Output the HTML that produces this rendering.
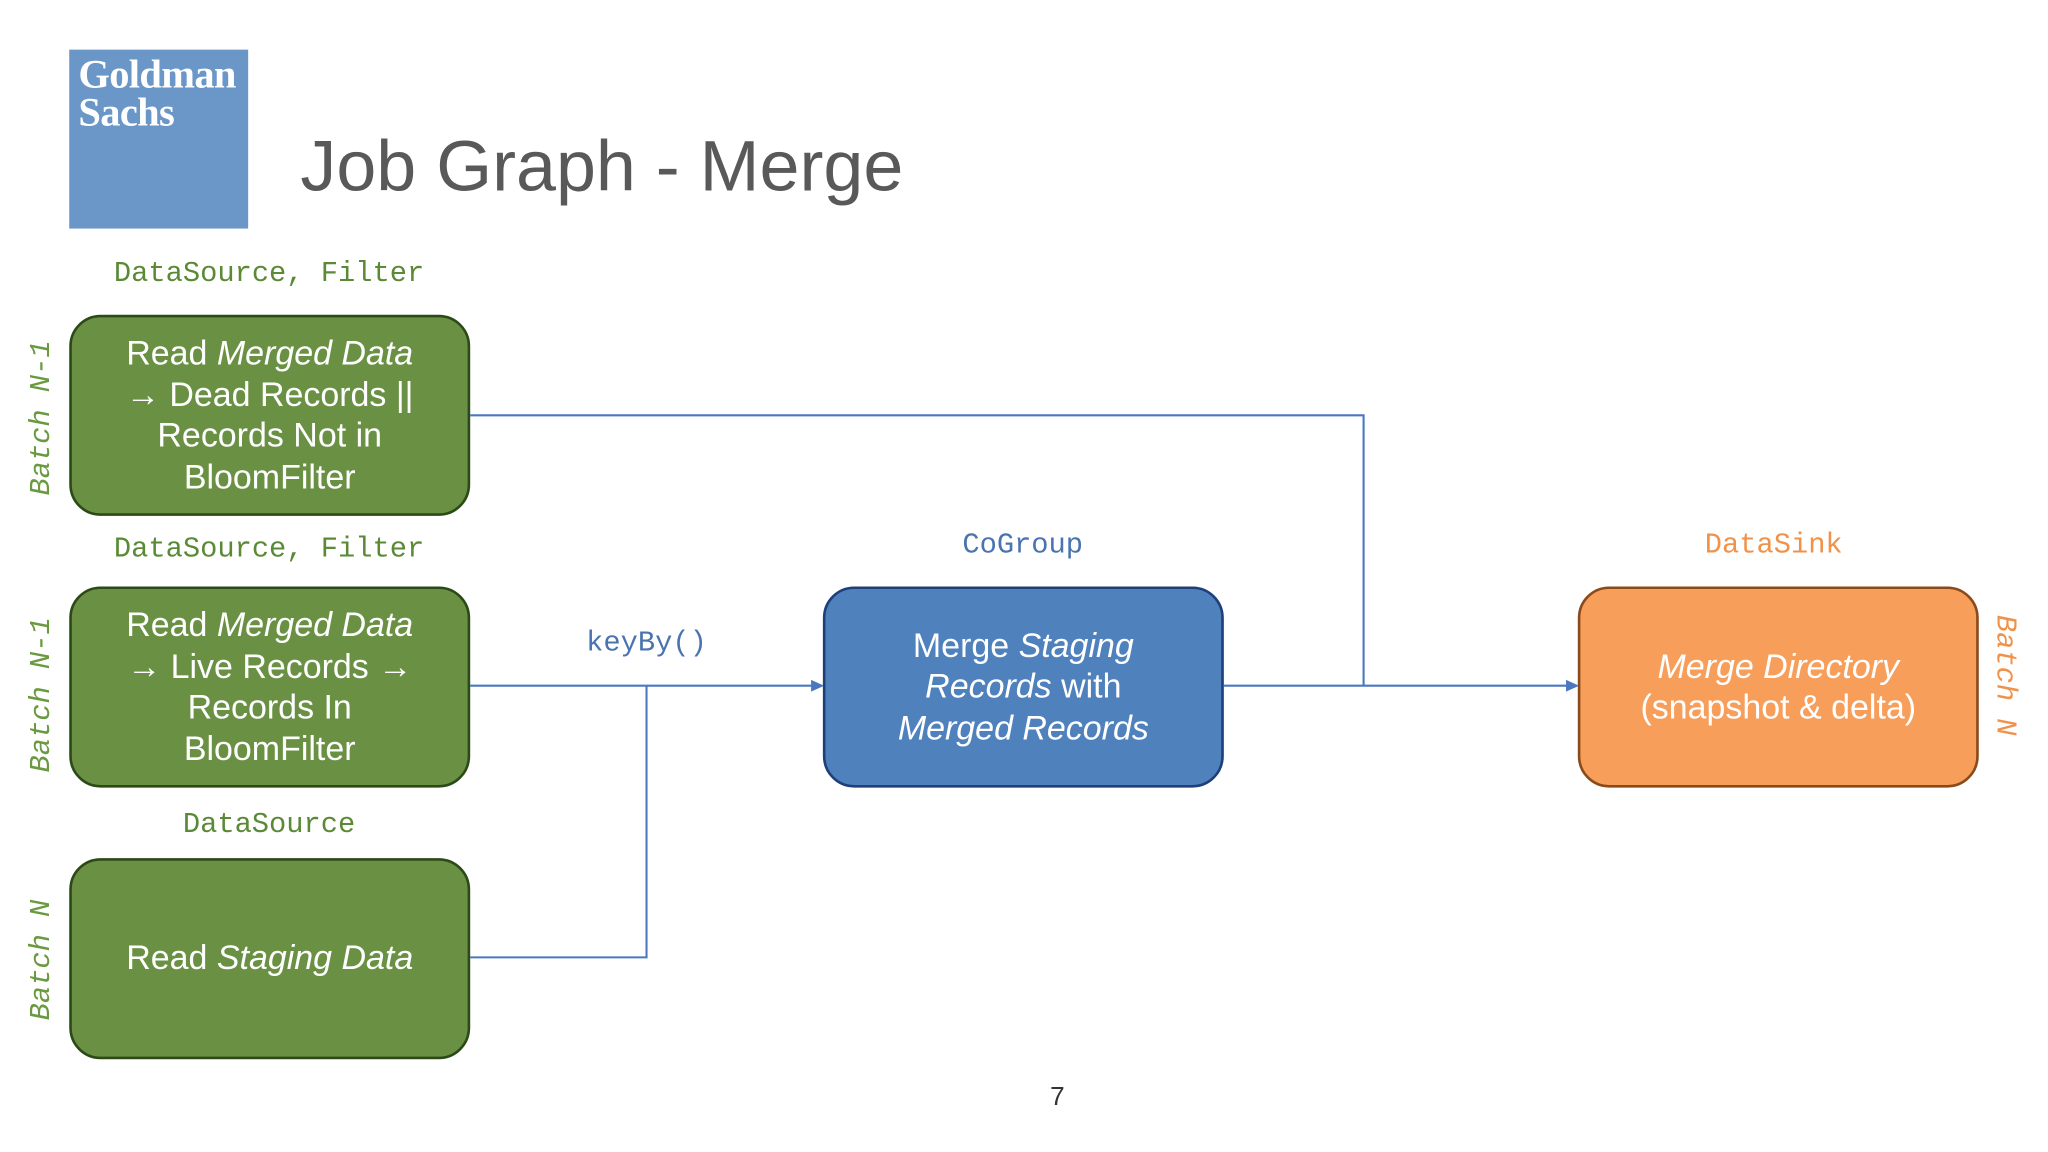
<!DOCTYPE html>
<html><head><meta charset="utf-8"><style>
html,body{margin:0;padding:0;background:#fff;}
body{width:2048px;height:1152px;overflow:hidden;}
#s{position:absolute;left:0;top:0;width:1568px;height:882px;transform:scale(1.30612);transform-origin:0 0;font-family:"Liberation Sans",sans-serif;}
.box{position:absolute;width:307px;height:154px;border-radius:24px;border:2px solid;display:flex;align-items:center;justify-content:center;text-align:center;color:#fff;font-size:26px;line-height:31.5px;box-sizing:border-box;}
.g{background:#6a9143;border-color:#2c4a18;}
.mono{position:absolute;font-family:"Liberation Mono","DejaVu Sans Mono",monospace;font-size:22px;transform:translateX(-50%);white-space:nowrap;}
.rot{position:absolute;font-family:"Liberation Mono","DejaVu Sans Mono",monospace;font-style:italic;font-size:22px;color:#6a9a3f;white-space:nowrap;transform:translate(-50%,-50%) rotate(-90deg);}
</style></head><body><div id="s">
<div style="position:absolute;left:53px;top:38px;width:137px;height:137px;background:#6b97c8;"></div>
<div style="position:absolute;left:60px;top:42px;color:#fff;font-family:'Liberation Serif',serif;font-weight:bold;font-size:31px;line-height:29px;letter-spacing:-0.5px;">Goldman<br>Sachs</div>
<div style="position:absolute;left:230px;top:95px;font-size:55px;color:#595959;">Job Graph - Merge</div>

<div class="mono" style="left:206px;top:197px;color:#5a8a36;">DataSource, Filter</div>
<div class="mono" style="left:206px;top:408px;color:#5a8a36;">DataSource, Filter</div>
<div class="mono" style="left:206px;top:619px;color:#5a8a36;">DataSource</div>
<div class="mono" style="left:783px;top:405px;color:#4a74b0;">CoGroup</div>
<div class="mono" style="left:1358px;top:405px;color:#f0924a;">DataSink</div>
<div class="mono" style="left:495px;top:480px;color:#4a74b0;">keyBy()</div>

<div class="rot" style="left:32px;top:320px;">Batch N-1</div>
<div class="rot" style="left:32px;top:532px;">Batch N-1</div>
<div class="rot" style="left:32px;top:735px;">Batch N</div>
<div class="rot" style="left:1535px;top:517px;color:#f0924a;transform:translate(-50%,-50%) rotate(90deg);">Batch N</div>

<svg style="position:absolute;left:0;top:0" width="1568" height="882">
<g stroke="#4a78c0" stroke-width="1.6" fill="none">
<polyline points="360,318 1044,318 1044,525"/>
<line x1="360" y1="525" x2="624" y2="525"/>
<polyline points="360,733 495,733 495,525"/>
<line x1="937" y1="525" x2="1202" y2="525"/>
</g>
<polygon points="631,525 621,520.5 621,529.5" fill="#4a78c0"/>
<polygon points="1209,525 1199,520.5 1199,529.5" fill="#4a78c0"/>
</svg>

<div class="box g" style="left:53px;top:241px;"><div>Read <i>Merged Data</i><br>→ Dead Records ||<br>Records Not in<br>BloomFilter</div></div>
<div class="box g" style="left:53px;top:449px;"><div>Read <i>Merged Data</i><br>→ Live Records →<br>Records In<br>BloomFilter</div></div>
<div class="box g" style="left:53px;top:657px;"><div>Read <i>Staging Data</i></div></div>
<div class="box" style="left:630px;top:449px;background:#4f81bd;border-color:#1f3f7a;"><div>Merge <i>Staging<br>Records</i> with<br><i>Merged Records</i></div></div>
<div class="box" style="left:1208px;top:449px;background:#f79e5a;border-color:#8a4a1a;"><div><i>Merge Directory</i><br>(snapshot &amp; delta)</div></div>

<div style="position:absolute;left:804px;top:829px;font-size:20px;color:#333;">7</div>
</div></body></html>
